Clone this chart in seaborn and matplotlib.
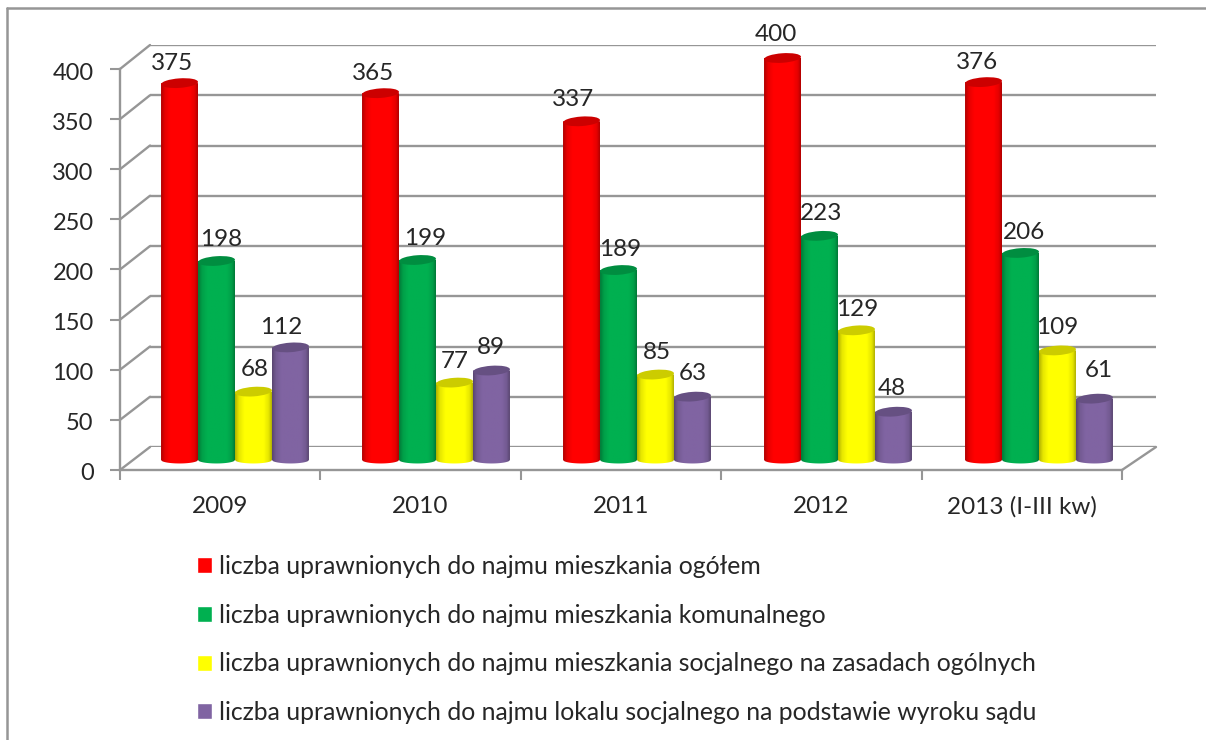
import numpy as np
import pandas as pd
import matplotlib
matplotlib.use('Agg')
import matplotlib.pyplot as plt
import seaborn as sns
from matplotlib.lines import Line2D
from matplotlib.patches import ConnectionPatch, Ellipse, PathPatch
from matplotlib.path import Path
from matplotlib.transforms import IdentityTransform, ScaledTranslation

years = ['2009', '2010', '2011', '2012', '2013 (I-III kw)']
ogolem = [375, 365, 337, 400, 376]
komunalne = [198, 199, 189, 223, 206]
socjalne = [68, 77, 85, 129, 109]
wyrok = [112, 89, 63, 48, 61]
series_names = [
    'liczba uprawnionych do najmu mieszkania ogółem',
    'liczba uprawnionych do najmu mieszkania komunalnego',
    'liczba uprawnionych do najmu mieszkania socjalnego na zasadach ogólnych',
    'liczba uprawnionych do najmu lokalu socjalnego na podstawie wyroku sądu',
]
colors = ['#FF0000', '#00B050', '#FFFF00', '#8064A2']
y_ticks = [0, 50, 100, 150, 200, 250, 300, 350, 400]

# hand placed label nudges in pixels, one row per series
label_dx = [[-7, -7, -8, -7, -7], [5, 8, 2, 2, 3], [1, 0, 1, 1, 0], [-9, -1, 0, -2, 4]]
label_dy = [[20, 20, 22, 23, 20], [21, 21, 21, 22, 20], [22, 21, 22, 21, 23], [20, 23, 23, 23, 28]]

W, H = 1206, 740
GRID = '#969696'
TEXT = '#262626'

sns.set_style('white')
plt.rcParams['font.family'] = ['Lato', 'DejaVu Sans']


def box(left, right, top, bottom):
    # pixel box (from the top left corner) to figure fractions
    return [left / W, 1 - bottom / H, (right - left) / W, (bottom - top) / H]


df = pd.DataFrame({
    'rok': years * 4,
    'seria': np.repeat(series_names, 5),
    'liczba': ogolem + komunalne + socjalne + wyrok,
})

fig = plt.figure(figsize=(W / 100, H / 100), dpi=100, facecolor='white')

# outer frame, only left and top are visible
fig.add_artist(Line2D([7 / W, 7 / W], [0, 1 - 8 / H], color=GRID, lw=1.8))
fig.add_artist(Line2D([7 / W, 1], [1 - 8 / H, 1 - 8 / H], color=GRID, lw=1.8))

# back wall
ax_back = fig.add_axes(box(150, 1156, 45, 447), zorder=0)
ax_back.set_xlim(0, 5)
ax_back.set_ylim(0, 400)
ax_back.set_yticks(y_ticks)
ax_back.set_xticks([])
ax_back.set_yticklabels([])
ax_back.grid(axis='y', color=GRID, lw=1.7)
ax_back.tick_params(length=0)
sns.despine(ax=ax_back, left=True, bottom=True)
ax_back.patch.set_alpha(0)

# front axis with the ticks and labels
ax_front = fig.add_axes(box(120, 1122, 69, 470), zorder=1)
ax_front.set_xlim(0, 5)
ax_front.set_ylim(0, 400)
ax_front.patch.set_alpha(0)
ax_front.set_yticks(y_ticks)
ax_front.set_xticks(range(6))
ax_front.set_xticklabels([])
ax_front.set_xticks(np.arange(5) + 0.5, labels=years, minor=True)
ax_front.tick_params(axis='both', which='major', length=7, width=1.5, color=GRID,
                     direction='out', left=True, bottom=True)
ax_front.tick_params(axis='y', labelsize=17, labelcolor=TEXT, pad=12)
ax_front.tick_params(axis='x', which='minor', length=0, labelsize=17.5,
                     labelcolor=TEXT, pad=19)
down = ScaledTranslation(0, -2 / 100, fig.dpi_scale_trans)
for lab in ax_front.get_yticklabels():
    lab.set_transform(lab.get_transform() + down)
sns.despine(ax=ax_front)
for side in ['left', 'bottom']:
    ax_front.spines[side].set_color(GRID)
    ax_front.spines[side].set_linewidth(1.7)

# side wall and floor diagonals
for v in y_ticks:
    fig.add_artist(ConnectionPatch((0, v), (0, v), 'data', 'data', axesA=ax_front, axesB=ax_back,
                                   color=GRID, lw=1.7, zorder=0.5))
fig.add_artist(ConnectionPatch((5, 0), (5, 0), 'data', 'data', axesA=ax_front, axesB=ax_back,
                               color=GRID, lw=1.7, zorder=0.5))

# bars stand in the middle of the floor
ax = fig.add_axes(box(134.5, 1139.5, 50, 470), zorder=2)
ax.patch.set_alpha(0)
sns.barplot(data=df, x='rok', y='liczba', hue='seria', hue_order=series_names,
            palette=colors, width=0.736, saturation=1, ax=ax)
ax.set_xlim(-0.5, 4.5)
ax.set_ylim(-10, 400 * 410 / 402)
ax.axis('off')

shade = np.interp(np.linspace(0, 1, 60), [0, 0.1, 0.25, 0.78, 0.92, 1],
                  [0.7, 0.9, 1, 1, 0.9, 0.7])
fig.canvas.draw()
for i, container in enumerate(ax.containers):
    rgb = np.array(matplotlib.colors.to_rgb(colors[i]))
    grad = np.clip(shade[None, :, None] * rgb[None, None, :], 0, 1)
    values = [ogolem, komunalne, socjalne, wyrok][i]
    for j, bar in enumerate(container.patches):
        x0, w, h = bar.get_x(), bar.get_width(), bar.get_height()
        bar.set_visible(False)
        # body outline with the rounded bottom
        t = np.linspace(-1, 1, 40)
        xs = x0 + w / 2 + t * w / 2
        ys = -3.5 * np.sqrt(1 - t ** 2)
        verts = [(x0, h)] + list(zip(xs, ys)) + [(x0 + w, h), (x0, h)]
        clip = PathPatch(Path(verts), transform=ax.transData)
        im = ax.imshow(grad, extent=(x0, x0 + w, -10, h), aspect='auto',
                       zorder=3 + i, interpolation='bilinear')
        im.set_clip_path(clip)
        # darker top of the cylinder, in pixels so it keeps its shape
        px, py = ax.transData.transform((x0 + w / 2, h))
        ax.add_patch(Ellipse((px, py), w * 201, 9.5, angle=4, facecolor=rgb * 0.8,
                             edgecolor='none', transform=IdentityTransform(),
                             zorder=3 + i, clip_on=False))
        ax.annotate(str(values[j]), (x0 + w / 2, h),
                    xytext=(label_dx[i][j] * 0.72, label_dy[i][j] * 0.72),
                    textcoords='offset points', ha='center', va='center',
                    fontsize=17.5, color=TEXT, zorder=10)
ax.set_xlim(-0.5, 4.5)
ax.set_ylim(-10, 400 * 410 / 402)

sns.move_legend(ax, loc='upper left', bbox_to_anchor=(197 / W, 1 - 555 / H),
                bbox_transform=fig.transFigure, title=None, frameon=False, fontsize=17.8,
                handlelength=0.61, handleheight=0.61, handletextpad=0.28,
                labelspacing=1.04, borderpad=0, borderaxespad=0, labelcolor=TEXT)

fig.savefig('out.png', dpi=100)
